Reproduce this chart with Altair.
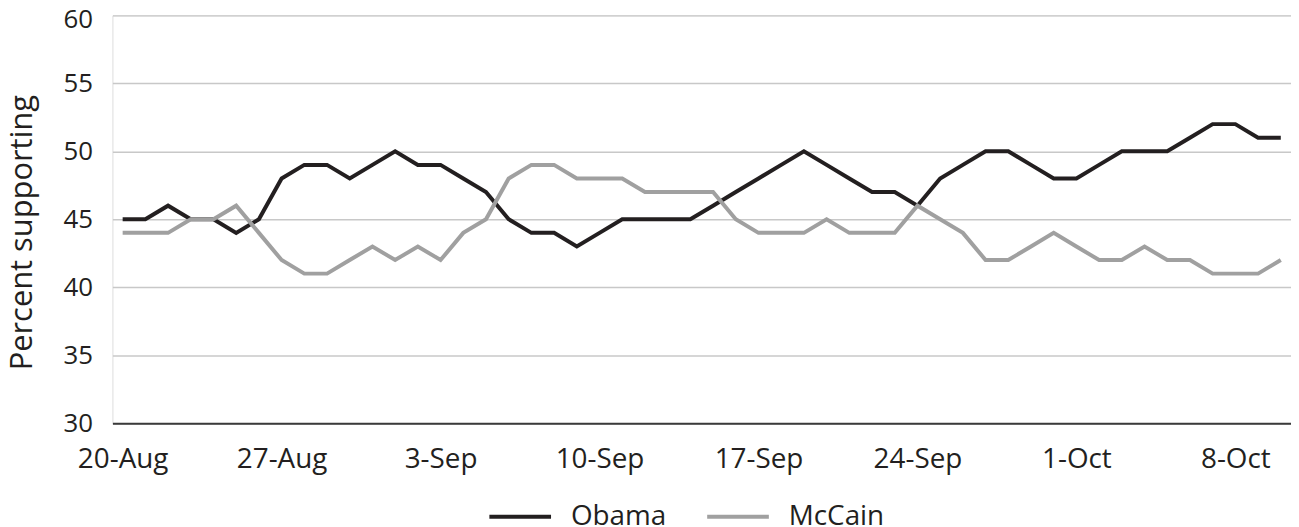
import altair as alt
import pandas as pd

dates = pd.date_range("2008-08-20", "2008-10-10", freq="D").strftime("%Y-%m-%d").tolist()

obama = [45, 45, 46, 45, 45, 44, 45, 48, 49, 49, 48, 49, 50, 49, 49, 48, 47,
         45, 44, 44, 43, 44, 45, 45, 45, 45, 46, 47, 48, 49, 50, 49, 48, 47,
         47, 46, 48, 49, 50, 50, 49, 48, 48, 49, 50, 50, 50, 51, 52, 52, 51, 51]
mccain = [44, 44, 44, 45, 45, 46, 44, 42, 41, 41, 42, 43, 42, 43, 42, 44, 45,
          48, 49, 49, 48, 48, 48, 47, 47, 47, 47, 45, 44, 44, 44, 45, 44, 44,
          44, 46, 45, 44, 42, 42, 43, 44, 43, 42, 42, 43, 42, 42, 41, 41, 41, 42]

series = ["Obama", "McCain"]
colors = ["#231f20", "#a0a0a0"]
tick_labels = ["20-Aug", "27-Aug", "3-Sep", "10-Sep", "17-Sep", "24-Sep", "1-Oct", "8-Oct"]
y_ticks = [30, 35, 40, 45, 50, 55, 60]

start = pd.Timestamp(dates[0])
rows = []
for d, o, m in zip(dates, obama, mccain):
    day = (pd.Timestamp(d) - start).days
    rows.append({"date": d, "day": day, "series": "Obama", "value": o})
    rows.append({"date": d, "day": day, "series": "McCain", "value": m})
df = pd.DataFrame(rows)

FONT = "Open Sans"
label_expr = "[" + ",".join("'%s'" % t for t in tick_labels) + "][round(datum.value/7)]"

chart = alt.Chart(df).mark_line(strokeWidth=4, strokeJoin="miter").encode(
    x=alt.X("day:Q",
            scale=alt.Scale(domain=[-0.45, 51.45], nice=False, zero=False),
            axis=alt.Axis(values=[0, 7, 14, 21, 28, 35, 42, 49], labelExpr=label_expr,
                          title=None, grid=False, ticks=False, domain=True,
                          domainColor="#3a3a3a", domainWidth=2,
                          labelFont=FONT, labelFontSize=28, labelColor="#231f20",
                          labelPadding=23, labelOverlap=False, labelFlush=False)),
    y=alt.Y("value:Q",
            scale=alt.Scale(domain=[30, 60], nice=False, zero=False),
            axis=alt.Axis(values=y_ticks, title="Percent supporting", grid=True,
                          gridColor="#c8c8c8", gridWidth=1.5, domain=False, ticks=False,
                          labelFont=FONT, labelFontSize=26, labelColor="#231f20",
                          labelPadding=20,
                          labelOffset={"condition": {"test": "datum.value == 60", "value": 4},
                                       "value": 0},
                          titleFont=FONT, titleFontSize=31,
                          titleFontWeight="normal", titleColor="#231f20",
                          titleAngle=-90, titleX=-81, titleY=218,
                          titleAlign="center", titleBaseline="alphabetic")),
    color=alt.Color("series:N",
                    scale=alt.Scale(domain=series, range=colors),
                    sort=series,
                    legend=alt.Legend(title=None, orient="none", direction="horizontal",
                                      legendX=377, legendY=471, padding=0,
                                      symbolType="stroke", symbolSize=3844,
                                      symbolStrokeWidth=4, labelOffset=18,
                                      columnPadding=33, labelFont=FONT,
                                      labelFontSize=28, labelColor="#231f20")),
    detail="series:N",
).properties(
    width=1185,
    height=410,
    padding={"left": 105, "top": 6, "right": 0, "bottom": 103},
    autosize=alt.AutoSizeParams(type="none"),
).configure_view(stroke=None).configure(background="white")

chart.save("out.html", embed_options={"renderer": "svg", "actions": False})
